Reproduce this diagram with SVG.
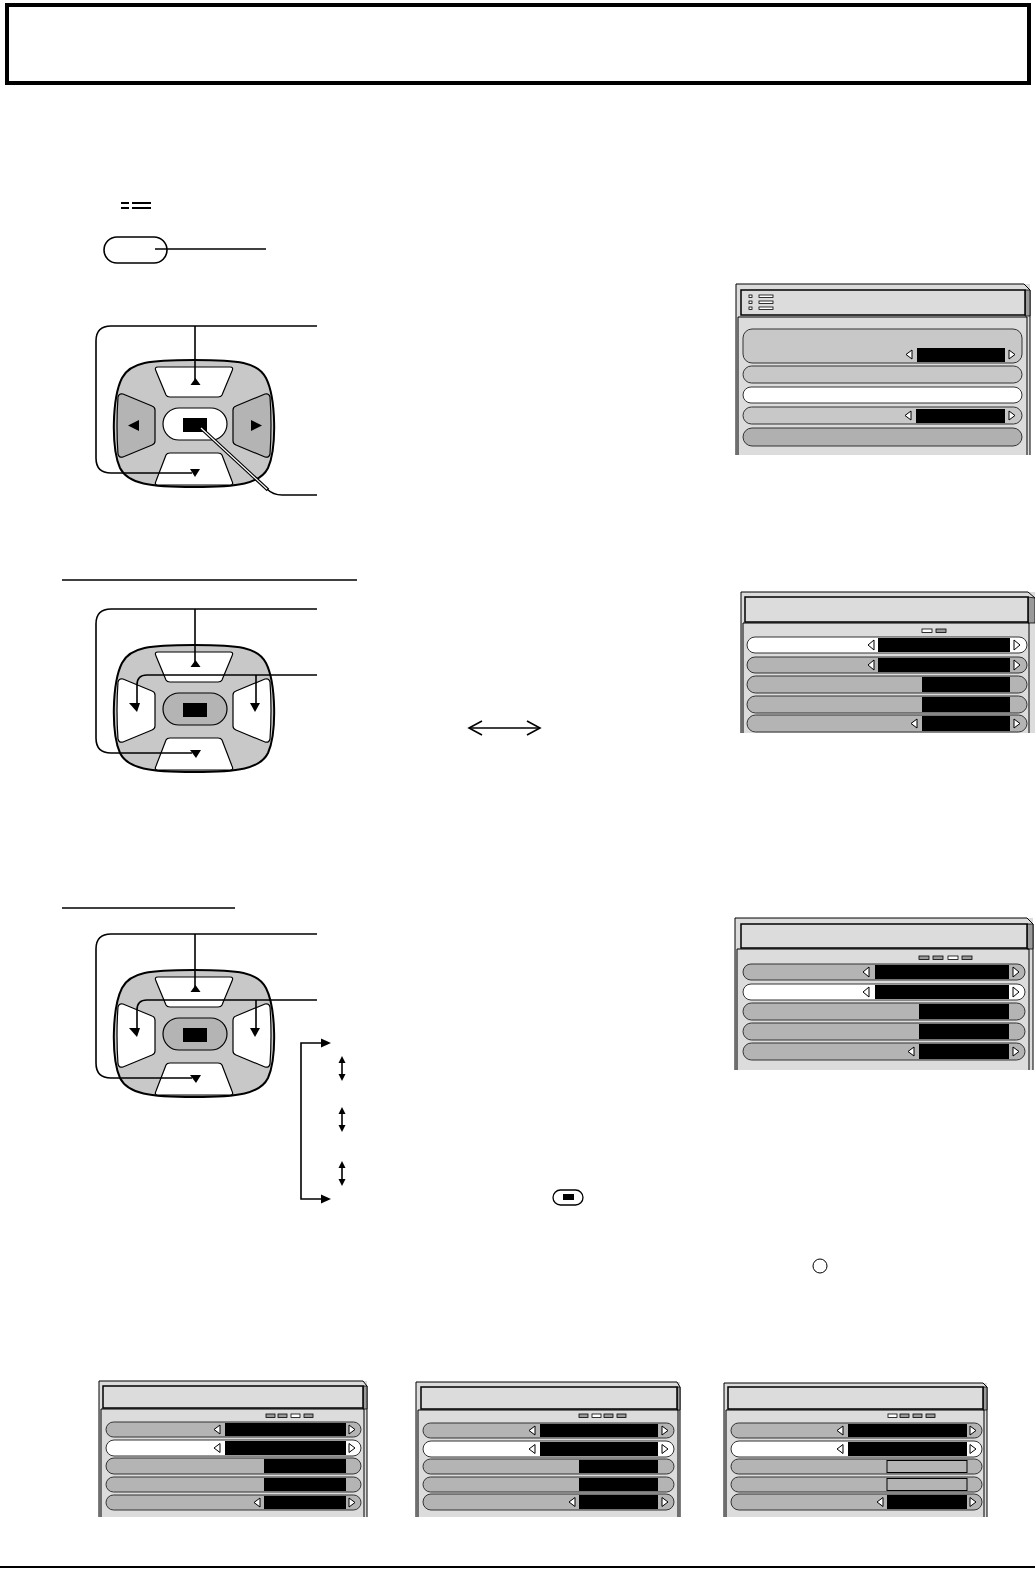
<svg xmlns="http://www.w3.org/2000/svg" xmlns:xlink="http://www.w3.org/1999/xlink" width="1035" height="1572" viewBox="0 0 1035 1572">
<style>
.ln{fill:none;stroke:#000;stroke-width:1.6}
.frame{fill:#dcdcdc;stroke:none}
.fedge{fill:none;stroke:#000;stroke-width:1}
.title{fill:#dcdcdc;stroke:#000;stroke-width:1.5}
.bevel{fill:#9a9a9a;stroke:#000;stroke-width:0.8}
.row{stroke:#333;stroke-width:1}
.g1{fill:#c8c8c8}.g2{fill:#b4b4b4}.g3{fill:#b0b0b0}.w{fill:#fff}
.val{fill:#000}
.arr{fill:#fff;stroke:#000;stroke-width:1}
.ind{stroke:#000;stroke-width:0.8}
.blk{fill:#000}
</style>
<defs>
<g id="padBody">
<path d="M194,360 C238,360 258,362 266,378 C276,398 277,448 268,468 C260,484 238,487 194,487 C150,487 128,484 120,468 C111,448 112,398 122,378 C130,362 150,360 194,360 Z" fill="#c8c8c8" stroke="#000" stroke-width="2"/>
<path d="M158,367 L230,367 Q234,367 232,371 L222,395 Q221,397 218,397 L170,397 Q167,397 166,395 L156,371 Q154,367 158,367 Z" fill="#fff" stroke="#000" stroke-width="1.2"/>
<path d="M170,453 L218,453 Q221,453 222,455 L232,481 Q234,485 230,485 L158,485 Q154,485 156,481 L166,455 Q167,453 170,453 Z" fill="#fff" stroke="#000" stroke-width="1.2"/>
</g>
<g id="padSides" stroke="#000" stroke-width="1.2">
<path d="M123,394 L152,406 Q155,407 155,410 L155,441 Q155,444 152,445 L123,457 Q119,458 118,454 Q116,425 118,397 Q119,393 123,394 Z"/>
<path d="M265,394 L236,406 Q233,407 233,410 L233,441 Q233,444 236,445 L265,457 Q269,458 270,454 Q272,425 270,397 Q269,393 265,394 Z"/>
</g>
<g id="padCenter">
<rect x="163" y="408" width="64" height="32" rx="16" stroke="#000" stroke-width="1.2"/>
<rect x="183" y="418" width="24" height="14" fill="#000"/>
</g>
</defs>

<g id="header">
<rect x="7" y="5" width="1022" height="78" fill="none" stroke="#000" stroke-width="4"/>
</g>

<g id="menu-icon">
<rect x="121" y="202" width="8" height="2" class="blk"/>
<rect x="132" y="202" width="19" height="2" class="blk"/>
<rect x="121" y="207" width="8" height="2" class="blk"/>
<rect x="132" y="207" width="19" height="2" class="blk"/>
</g>
<g id="menu-button">
<rect x="104" y="237" width="63" height="26" rx="13" fill="#fff" stroke="#000" stroke-width="1.6"/>
</g>

<g id="pad1">
<use xlink:href="#padBody"/>
<use xlink:href="#padSides" fill="#b4b4b4"/>
<use xlink:href="#padCenter" fill="#fff"/>
<polygon points="128,425.5 139,420 139,431" class="blk"/>
<polygon points="262,425.5 251,420 251,431" class="blk"/>
</g>
<g id="pad2" transform="translate(0,285)">
<use xlink:href="#padBody"/>
<use xlink:href="#padSides" fill="#fff"/>
<use xlink:href="#padCenter" fill="#b4b4b4"/>
</g>
<g id="pad3" transform="translate(0,610)">
<use xlink:href="#padBody"/>
<use xlink:href="#padSides" fill="#fff"/>
<use xlink:href="#padCenter" fill="#b4b4b4"/>
</g>

<g id="connectors">
<line x1="155" y1="249" x2="266" y2="249" class="ln"/>
<!-- pad1 -->
<path d="M317,326 L111,326 Q96,326 96,341 L96,458 Q96,473 111,473 L192,473" class="ln"/>
<polygon points="190,469 200,469 195,477" class="blk"/>
<line x1="195" y1="326" x2="195" y2="381" class="ln"/>
<polygon points="190.5,385 200.5,385 195.5,378" class="blk"/>
<path d="M201,428 L268,490" fill="none" stroke="#000" stroke-width="3.6"/>
<path d="M201,428 L268,490" fill="none" stroke="#fff" stroke-width="1.2"/>
<path d="M267,489 Q273,495 282,495 L317,495" class="ln"/>
<!-- section 2 -->
<line x1="62" y1="580" x2="357" y2="580" class="ln"/>
<path d="M317,609 L111,609 Q96,609 96,624 L96,738 Q96,753 111,753 L192,753" class="ln"/>
<polygon points="190,750 201,750 196,758" class="blk"/>
<line x1="195" y1="609" x2="195" y2="662" class="ln"/>
<polygon points="190.5,667 200.5,667 195.5,660" class="blk"/>
<path d="M317,675 L147,675 Q137,675 137,685 L137,704" class="ln"/>
<polygon points="129,703 140,703 137,712" class="blk"/>
<line x1="256" y1="675" x2="256" y2="704" class="ln"/>
<polygon points="250,703 260,703 255,712" class="blk"/>
<!-- double arrow -->
<line x1="470" y1="728" x2="539" y2="728" class="ln"/>
<polyline points="482,721 469,728 482,735" class="ln"/>
<polyline points="527,721 540,728 527,735" class="ln"/>
<!-- section 3 -->
<line x1="62" y1="908" x2="235" y2="908" class="ln"/>
<path d="M317,934 L111,934 Q96,934 96,949 L96,1063 Q96,1078 111,1078 L192,1078" class="ln"/>
<polygon points="190,1075 201,1075 196,1083" class="blk"/>
<line x1="195" y1="934" x2="195" y2="987" class="ln"/>
<polygon points="190.5,992 200.5,992 195.5,985" class="blk"/>
<path d="M317,1000 L147,1000 Q137,1000 137,1010 L137,1029" class="ln"/>
<polygon points="129,1028 140,1028 137,1037" class="blk"/>
<line x1="256" y1="1000" x2="256" y2="1029" class="ln"/>
<polygon points="250,1028 260,1028 255,1037" class="blk"/>
<!-- bracket -->
<path d="M323,1043 L301,1043 L301,1199 L323,1199" class="ln"/>
<polygon points="321,1038.5 331,1043 321,1047.5" class="blk"/>
<polygon points="321,1194.5 331,1199 321,1203.5" class="blk"/>
<line x1="342" y1="1061" x2="342" y2="1076" class="ln"/>
<polygon points="338.5,1063 345.5,1063 342,1056" class="blk"/>
<polygon points="338.5,1074 345.5,1074 342,1081" class="blk"/>
<line x1="342" y1="1112" x2="342" y2="1127" class="ln"/>
<polygon points="338.5,1114 345.5,1114 342,1107" class="blk"/>
<polygon points="338.5,1125 345.5,1125 342,1132" class="blk"/>
<line x1="342" y1="1166" x2="342" y2="1181" class="ln"/>
<polygon points="338.5,1168 345.5,1168 342,1161" class="blk"/>
<polygon points="338.5,1179 345.5,1179 342,1186" class="blk"/>
</g>

<g id="small-button">
<rect x="553" y="1190" width="30" height="15" rx="7.5" fill="#fff" stroke="#000" stroke-width="1.3"/>
<rect x="563" y="1194" width="11" height="6" class="blk"/>
</g>
<g id="circle-mark">
<circle cx="820" cy="1266" r="7" fill="#fff" stroke="#000" stroke-width="1"/>
</g>

<!-- Screen 1 -->
<g id="screen1">
<rect x="736" y="284" width="294" height="171" class="frame"/>
<path d="M736,455 L736,284 L1024,284 L1030,290 L1030,455" class="fedge"/>
<polygon points="1025,290 1030,290 1030,316 1025,316" class="bevel"/>
<rect x="741" y="290" width="284" height="25" class="title"/>
<path d="M738,455 L738,317 L1027,317 L1027,455" class="fedge"/>
<rect x="749" y="295" width="3" height="2.5" class="ind" fill="#fff"/>
<rect x="759" y="295" width="14" height="2.5" class="ind" fill="#fff"/>
<rect x="749" y="301" width="3" height="2.5" class="ind" fill="#fff"/>
<rect x="759" y="301" width="14" height="2.5" class="ind" fill="#fff"/>
<rect x="749" y="307" width="3" height="2.5" class="ind" fill="#fff"/>
<rect x="759" y="307" width="14" height="2.5" class="ind" fill="#fff"/>
<rect x="743" y="329" width="279" height="34" rx="9" class="row g1"/>
<polygon points="912,350 906,354.5 912,359" class="arr"/>
<rect x="917" y="348" width="88" height="14" class="val"/>
<polygon points="1009,350 1015,354.5 1009,359" class="arr"/>
<rect x="743" y="366" width="279" height="17" rx="8.5" class="row g1"/>
<rect x="743" y="387" width="279" height="16" rx="8" class="row w"/>
<rect x="743" y="407" width="279" height="17" rx="8.5" class="row g1"/>
<polygon points="911,411 905,415.5 911,420" class="arr"/>
<rect x="916" y="409" width="89" height="14" class="val"/>
<polygon points="1009,411 1015,415.5 1009,420" class="arr"/>
<rect x="743" y="428" width="279" height="18" rx="9" class="row g3"/>
</g>

<!-- Screen 2 -->
<g id="screen2">
<rect x="741" y="592" width="294" height="141" class="frame"/>
<path d="M741,733 L741,592 L1028,592 L1035,598" class="fedge"/>
<polygon points="1028,597 1035,598 1035,623 1028,623" class="bevel"/>
<rect x="745" y="597" width="283" height="25" class="title"/>
<path d="M743,733 L743,623 L1029,623 L1029,733" class="fedge"/>
<rect x="922" y="629" width="10" height="3.5" class="ind" fill="#fff"/>
<rect x="936" y="629" width="10" height="3.5" class="ind" fill="#9a9a9a"/>
<rect x="747" y="637" width="280" height="16" rx="8" class="row w"/>
<polygon points="874,640 868,645 874,650" class="arr"/>
<rect x="878" y="638" width="132" height="14" class="val"/>
<polygon points="1014,640 1020,645 1014,650" class="arr"/>
<rect x="747" y="657" width="280" height="16" rx="8" class="row g2"/>
<polygon points="874,660 868,665 874,670" class="arr"/>
<rect x="878" y="658" width="132" height="14" class="val"/>
<polygon points="1014,660 1020,665 1014,670" class="arr"/>
<rect x="747" y="676" width="280" height="17" rx="8.5" class="row g2"/>
<rect x="922" y="677" width="88" height="15" class="val"/>
<rect x="747" y="696" width="280" height="17" rx="8.5" class="row g2"/>
<rect x="922" y="697" width="88" height="15" class="val"/>
<rect x="747" y="715" width="280" height="17" rx="8.5" class="row g2"/>
<polygon points="917,719 911,723.5 917,728" class="arr"/>
<rect x="922" y="716" width="88" height="15" class="val"/>
<polygon points="1014,719 1020,723.5 1014,728" class="arr"/>
</g>

<!-- Screen 3 -->
<g id="screen3">
<rect x="735" y="918" width="298" height="152" class="frame"/>
<path d="M735,1070 L735,918 L1027,918 L1033,924 L1033,1070" class="fedge"/>
<polygon points="1027,924 1033,924 1033,949 1027,949" class="bevel"/>
<rect x="741" y="924" width="286" height="24" class="title"/>
<path d="M737,1070 L737,949 L1029,949 L1029,1070" class="fedge"/>
<rect x="919" y="956" width="10" height="3.5" class="ind" fill="#9a9a9a"/>
<rect x="933" y="956" width="10" height="3.5" class="ind" fill="#9a9a9a"/>
<rect x="948" y="956" width="10" height="3.5" class="ind" fill="#fff"/>
<rect x="962" y="956" width="10" height="3.5" class="ind" fill="#9a9a9a"/>
<rect x="743" y="964" width="282" height="16" rx="8" class="row g2"/>
<polygon points="869,967 863,972 869,977" class="arr"/>
<rect x="875" y="965" width="134" height="14" class="val"/>
<polygon points="1013,967 1019,972 1013,977" class="arr"/>
<rect x="743" y="984" width="282" height="16" rx="8" class="row w"/>
<polygon points="869,987 863,992 869,997" class="arr"/>
<rect x="875" y="985" width="134" height="14" class="val"/>
<polygon points="1013,987 1019,992 1013,997" class="arr"/>
<rect x="743" y="1003" width="282" height="17" rx="8.5" class="row g2"/>
<rect x="919" y="1004" width="90" height="15" class="val"/>
<rect x="743" y="1023" width="282" height="17" rx="8.5" class="row g2"/>
<rect x="919" y="1024" width="90" height="15" class="val"/>
<rect x="743" y="1043" width="282" height="17" rx="8.5" class="row g2"/>
<polygon points="914,1047 908,1051.5 914,1056" class="arr"/>
<rect x="919" y="1044" width="90" height="15" class="val"/>
<polygon points="1013,1047 1019,1051.5 1013,1056" class="arr"/>
</g>

<!-- Bottom screen 1 -->
<g id="screen4">
<rect x="99" y="1381" width="268" height="136" class="frame"/>
<path d="M99,1517 L99,1381 L363,1381 L367,1386 L367,1517" class="fedge"/>
<polygon points="363,1386 367,1386 367,1409 363,1409" class="bevel"/>
<rect x="103" y="1386" width="260" height="22" class="title"/>
<path d="M101,1517 L101,1409 L364,1409 L364,1517" class="fedge"/>
<rect x="266" y="1414" width="9" height="3.5" class="ind" fill="#9a9a9a"/>
<rect x="278" y="1414" width="9" height="3.5" class="ind" fill="#9a9a9a"/>
<rect x="291" y="1414" width="9" height="3.5" class="ind" fill="#fff"/>
<rect x="304" y="1414" width="9" height="3.5" class="ind" fill="#9a9a9a"/>
<rect x="106" y="1422" width="255" height="15" rx="7.5" class="row g2"/>
<polygon points="220,1425 214,1429.5 220,1434" class="arr"/>
<rect x="225" y="1423" width="121" height="13" class="val"/>
<polygon points="349,1425 355,1429.5 349,1434" class="arr"/>
<rect x="106" y="1440" width="255" height="16" rx="8" class="row w"/>
<polygon points="220,1443.5 214,1448 220,1452.5" class="arr"/>
<rect x="225" y="1441" width="121" height="14" class="val"/>
<polygon points="349,1443.5 355,1448 349,1452.5" class="arr"/>
<rect x="106" y="1458" width="255" height="16" rx="8" class="row g2"/>
<rect x="264" y="1459" width="82" height="14" class="val"/>
<rect x="106" y="1477" width="255" height="15" rx="7.5" class="row g2"/>
<rect x="264" y="1478" width="82" height="13" class="val"/>
<rect x="106" y="1495" width="255" height="15" rx="7.5" class="row g2"/>
<polygon points="260,1498 254,1502.5 260,1507" class="arr"/>
<rect x="264" y="1496" width="82" height="13" class="val"/>
<polygon points="349,1498 355,1502.5 349,1507" class="arr"/>
</g>

<!-- Bottom screen 2 -->
<g id="screen5">
<rect x="416" y="1382" width="264" height="135" class="frame"/>
<path d="M416,1517 L416,1382 L677,1382 L680,1387 L680,1517" class="fedge"/>
<polygon points="677,1387 680,1387 680,1410 677,1410" class="bevel"/>
<rect x="421" y="1387" width="256" height="22" class="title"/>
<path d="M418,1517 L418,1410 L678,1410 L678,1517" class="fedge"/>
<rect x="579" y="1414" width="9" height="3.5" class="ind" fill="#9a9a9a"/>
<rect x="592" y="1414" width="9" height="3.5" class="ind" fill="#fff"/>
<rect x="604" y="1414" width="9" height="3.5" class="ind" fill="#9a9a9a"/>
<rect x="617" y="1414" width="9" height="3.5" class="ind" fill="#9a9a9a"/>
<rect x="423" y="1423" width="251" height="15" rx="7.5" class="row g2"/>
<polygon points="535,1426 529,1430.5 535,1435" class="arr"/>
<rect x="540" y="1424" width="118" height="13" class="val"/>
<polygon points="662,1426 668,1430.5 662,1435" class="arr"/>
<rect x="423" y="1441" width="251" height="16" rx="8" class="row w"/>
<polygon points="535,1444.5 529,1449 535,1453.5" class="arr"/>
<rect x="540" y="1442" width="118" height="14" class="val"/>
<polygon points="662,1444.5 668,1449 662,1453.5" class="arr"/>
<rect x="423" y="1459" width="251" height="15" rx="7.5" class="row g2"/>
<rect x="579" y="1460" width="79" height="13" class="val"/>
<rect x="423" y="1477" width="251" height="15" rx="7.5" class="row g2"/>
<rect x="579" y="1478" width="79" height="13" class="val"/>
<rect x="423" y="1494" width="251" height="16" rx="8" class="row g2"/>
<polygon points="575,1497.5 569,1502 575,1506.5" class="arr"/>
<rect x="579" y="1495" width="79" height="14" class="val"/>
<polygon points="662,1497.5 668,1502 662,1506.5" class="arr"/>
</g>

<!-- Bottom screen 3 -->
<g id="screen6">
<rect x="724" y="1383" width="263" height="134" class="frame"/>
<path d="M724,1517 L724,1383 L983,1383 L987,1387 L987,1517" class="fedge"/>
<polygon points="983,1387 987,1387 987,1410 983,1410" class="bevel"/>
<rect x="728" y="1387" width="255" height="22" class="title"/>
<path d="M726,1517 L726,1410 L984,1410 L984,1517" class="fedge"/>
<rect x="888" y="1414" width="9" height="3.5" class="ind" fill="#fff"/>
<rect x="900" y="1414" width="9" height="3.5" class="ind" fill="#9a9a9a"/>
<rect x="913" y="1414" width="9" height="3.5" class="ind" fill="#9a9a9a"/>
<rect x="926" y="1414" width="9" height="3.5" class="ind" fill="#9a9a9a"/>
<rect x="731" y="1423" width="251" height="15" rx="7.5" class="row g2"/>
<polygon points="843,1426 837,1430.5 843,1435" class="arr"/>
<rect x="848" y="1424" width="119" height="13" class="val"/>
<polygon points="970,1426 976,1430.5 970,1435" class="arr"/>
<rect x="731" y="1441" width="251" height="16" rx="8" class="row w"/>
<polygon points="843,1444.5 837,1449 843,1453.5" class="arr"/>
<rect x="848" y="1442" width="119" height="14" class="val"/>
<polygon points="970,1444.5 976,1449 970,1453.5" class="arr"/>
<rect x="731" y="1459" width="251" height="15" rx="7.5" class="row g2"/>
<rect x="887" y="1460.5" width="80" height="12" fill="#b4b4b4" stroke="#000" stroke-width="1"/>
<rect x="731" y="1477" width="251" height="15" rx="7.5" class="row g2"/>
<rect x="887" y="1478.5" width="80" height="12" fill="#b4b4b4" stroke="#000" stroke-width="1"/>
<rect x="731" y="1494" width="251" height="16" rx="8" class="row g2"/>
<polygon points="883,1497.5 877,1502 883,1506.5" class="arr"/>
<rect x="887" y="1495" width="80" height="14" class="val"/>
<polygon points="970,1497.5 976,1502 970,1506.5" class="arr"/>
</g>

<g id="footer">
<line x1="0" y1="1567" x2="1035" y2="1567" stroke="#000" stroke-width="2"/>
</g>
</svg>
